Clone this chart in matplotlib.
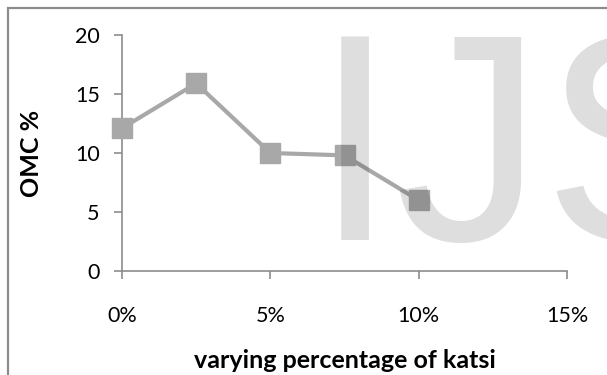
import matplotlib.pyplot as plt
from matplotlib.patches import Rectangle
from matplotlib.ticker import FuncFormatter

# data
katsi_pct = [0, 2.5, 5, 7.5, 10]
omc = [12.1, 15.9, 10.0, 9.8, 6.0]
x_ticks = [0, 5, 10, 15]
y_ticks = [0, 5, 10, 15, 20]

W, H = 607, 375
plt.rcParams['font.family'] = ['Lato', 'DejaVu Sans']

fig = plt.figure(figsize=(W / 100, H / 100), dpi=100)
ax = fig.add_axes([122 / W, 1 - 271 / H, (567 - 122) / W, (271 - 35) / H])

ax.plot(katsi_pct, omc, color='#a8a8a8', lw=3, marker='s', ms=14,
        mfc='#a8a8a8', mec='#a8a8a8', zorder=3, clip_on=False)

ax.set_xlim(0, 15)
ax.set_ylim(0, 20)
ax.set_xticks(x_ticks)
ax.set_yticks(y_ticks)
ax.xaxis.set_major_formatter(FuncFormatter(lambda v, p: f"{v:.0f}%"))

for s in ['top', 'right']:
    ax.spines[s].set_visible(False)
for s in ['left', 'bottom']:
    ax.spines[s].set_color('#8c8c8c')
    ax.spines[s].set_linewidth(1.2)
ax.tick_params(colors='#8c8c8c', labelcolor='black', labelsize=15.5,
               length=6, width=1.2, direction='out')
ax.tick_params(axis='x', pad=19)
ax.tick_params(axis='y', pad=10)

ax.set_xlabel('varying percentage of katsi', fontsize=18, fontweight='bold')
ax.xaxis.set_label_coords(0.5, -0.33)
ax.set_ylabel('OMC %', fontsize=18, fontweight='bold')
ax.yaxis.set_label_coords(-0.178, 0.5)

# chart area frame (cut off at right and bottom)
fig.patches.append(Rectangle((8 / W, -0.2), 1.2, 1 - 8 / H + 0.2,
                             transform=fig.transFigure, fill=False,
                             ec='#8c8c8c', lw=1.6))

# watermark
fig.text(314 / W, 1 - 240 / H, 'IJS', fontsize=213, family='Liberation Sans',
         color='black', alpha=0.13, va='baseline', ha='left', zorder=5)

fig.savefig('out.png', dpi=100)
